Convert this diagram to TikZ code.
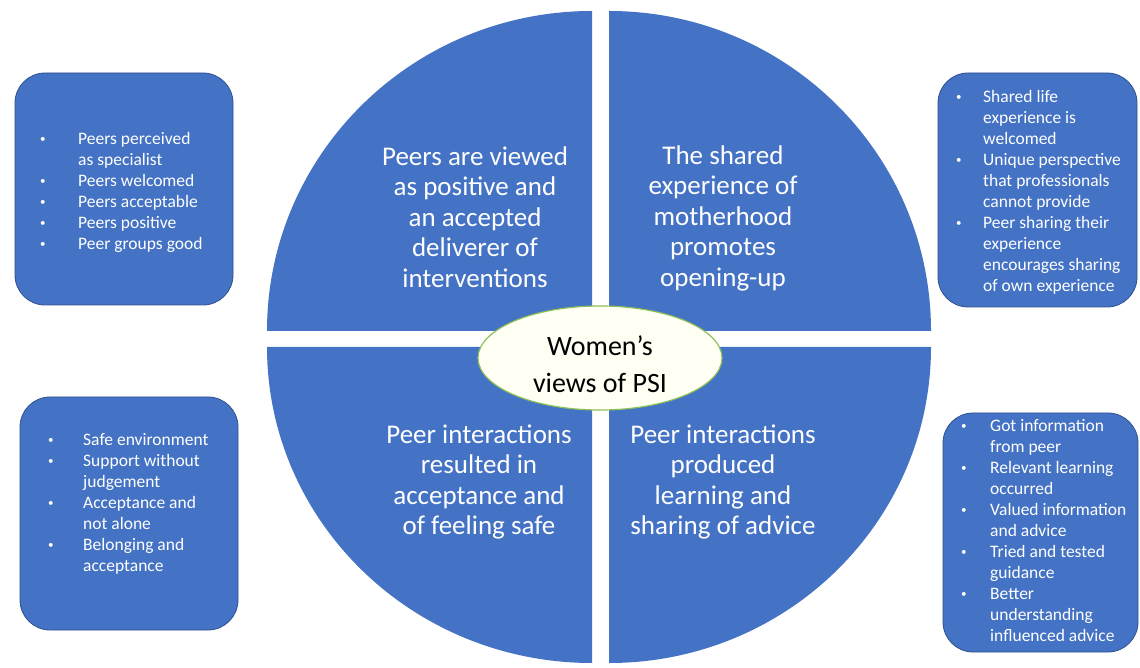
\documentclass[tikz,border=0pt]{standalone}
\usepackage{fontspec}
\setmainfont{Carlito}
\usetikzlibrary{shapes.geometric}
\definecolor{qblue}{HTML}{4472C4}
\definecolor{bdark}{HTML}{2F528F}
\definecolor{egreen}{HTML}{8FBF5A}
\definecolor{eivory}{HTML}{FFFFF4}
\newcommand{\bl}[1]{\strut\makebox[#1][l]{\hspace*{1pt}\raisebox{2pt}{\fontsize{11}{11}\selectfont\textbullet}}}
\newcommand{\ind}[1]{\strut\hspace*{#1}}
\begin{document}
\begin{tikzpicture}[x=1pt,y=1pt,
  quad/.style={fill=qblue, draw=none},
  sidebox/.style={rectangle, fill=qblue, draw=bdark, line width=0.8pt, rounded corners=30pt, inner sep=0pt},
  quadtext/.style={text=white, font=\fontsize{27}{30.5}\selectfont, align=center, inner sep=0pt},
  listtext/.style={text=white, font=\fontsize{17.5}{21}\selectfont, align=left, anchor=north west, inner sep=0pt}]
\useasboundingbox (0,0) rectangle (1140,667);
\fill[white] (0,0) rectangle (1140,667);

% quadrants
\fill[quad] (592,336) -- ++(-325,0) arc[start angle=180, end angle=90, x radius=325, y radius=320] -- cycle;
\fill[quad] (609,336) -- ++(0,320) arc[start angle=90, end angle=0, x radius=322, y radius=320] -- cycle;
\fill[quad] (592,320) -- ++(-325,0) arc[start angle=180, end angle=270, x radius=325, y radius=316] -- cycle;
\fill[quad] (609,320) -- ++(322,0) arc[start angle=0, end angle=-90, x radius=322, y radius=316] -- cycle;

\node[quadtext] (qtl) at (475,450) {Peers are viewed\\as positive and\\an accepted\\deliverer of\\interventions};
\node[quadtext] (qtr) at (723,449) {The shared\\experience of\\motherhood\\promotes\\opening-up};
\node[quadtext] (qbl) at (479,185) {Peer interactions\\resulted in\\acceptance and\\of feeling safe};
\node[quadtext] (qbr) at (723,185) {Peer interactions\\produced\\learning and\\sharing of advice};

% centre ellipse
\node[ellipse, fill=eivory, draw=egreen, line width=1.2pt, minimum width=244pt, minimum height=104pt, inner sep=0pt] (centre) at (600,309) {};
\node[font=\fontsize{28}{37}\selectfont, align=center, inner sep=0pt] (centretext) at (600,303) {Women’s\\views of PSI};

% side boxes
\node[sidebox, minimum width=218pt, minimum height=232pt] (boxtl) at (124,478) {};
\node[sidebox, minimum width=199pt, minimum height=234pt] (boxtr) at (1037.5,477) {};
\node[sidebox, minimum width=218pt, minimum height=233pt] (boxbl) at (129,153.5) {};
\node[sidebox, minimum width=195pt, minimum height=239pt] (boxbr) at (1040.5,134.5) {};

\node[listtext] (ltl) at (39,537.7) {\bl{39pt}Peers perceived\\\ind{39pt}as specialist\\\bl{39pt}Peers welcomed\\\bl{39pt}Peers acceptable\\\bl{39pt}Peers positive\\\bl{39pt}Peer groups good};
\node[listtext] (ltr) at (955,579.7) {\bl{28pt}Shared life\\\ind{28pt}experience is\\\ind{28pt}welcomed\\\bl{28pt}Unique perspective\\\ind{28pt}that professionals\\\ind{28pt}cannot provide\\\bl{28pt}Peer sharing their\\\ind{28pt}experience\\\ind{28pt}encourages sharing\\\ind{28pt}of own experience};
\node[listtext] (lbl) at (47,236.7) {\bl{36pt}Safe environment\\\bl{36pt}Support without\\\ind{36pt}judgement\\\bl{36pt}Acceptance and\\\ind{36pt}not alone\\\bl{36pt}Belonging and\\\ind{36pt}acceptance};
\node[listtext] (lbr) at (960,250.7) {\bl{30pt}Got information\\\ind{30pt}from peer\\\bl{30pt}Relevant learning\\\ind{30pt}occurred\\\bl{30pt}Valued information\\\ind{30pt}and advice\\\bl{30pt}Tried and tested\\\ind{30pt}guidance\\\bl{30pt}Better\\\ind{30pt}understanding\\\ind{30pt}influenced advice};
\end{tikzpicture}
\end{document}
